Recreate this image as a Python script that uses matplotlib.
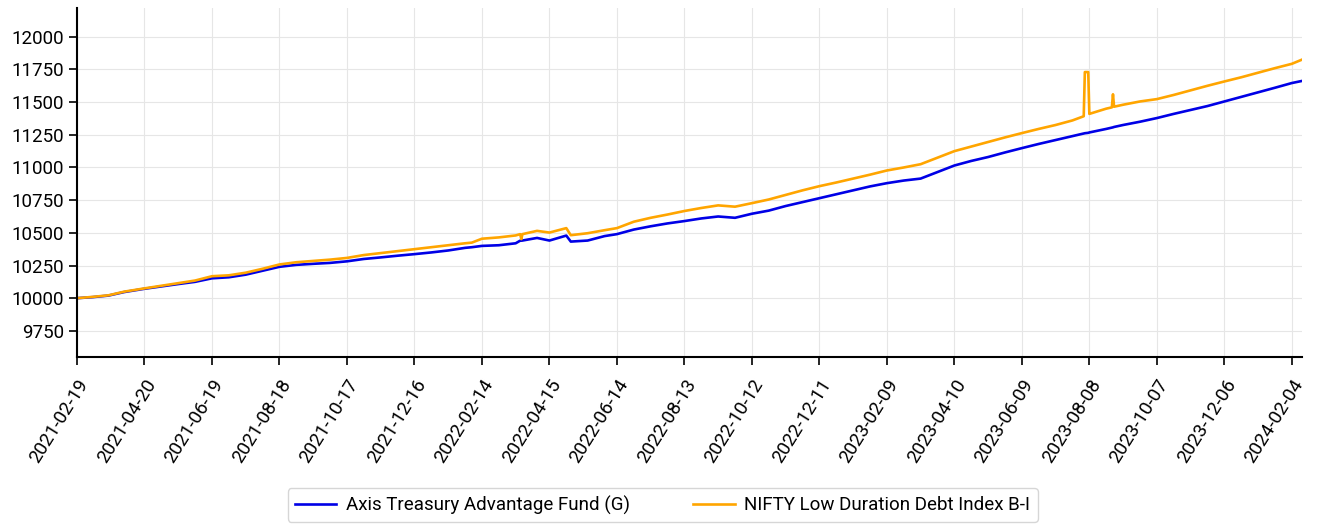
import matplotlib
matplotlib.use("Agg")
import matplotlib.pyplot as plt
import matplotlib.dates as mdates
import pandas as pd

plt.rcParams["font.family"] = ["Roboto", "DejaVu Sans"]

dates = [
    "2021-02-19", "2021-03-05", "2021-03-19", "2021-04-02", "2021-04-20",
    "2021-05-05", "2021-05-20", "2021-06-04", "2021-06-19", "2021-07-04",
    "2021-07-19", "2021-08-03", "2021-08-18", "2021-09-02", "2021-09-17",
    "2021-10-02", "2021-10-17", "2021-11-01", "2021-11-16", "2021-12-01",
    "2021-12-16", "2021-12-31", "2022-01-15", "2022-01-30", "2022-02-05",
    "2022-02-14", "2022-03-01", "2022-03-16", "2022-03-20", "2022-03-21",
    "2022-03-22", "2022-04-04", "2022-04-15", "2022-04-30", "2022-05-04",
    "2022-05-19", "2022-06-03", "2022-06-14", "2022-06-29", "2022-07-14",
    "2022-07-29", "2022-08-13", "2022-08-28", "2022-09-12", "2022-09-27",
    "2022-10-12", "2022-10-27", "2022-11-11", "2022-11-26", "2022-12-11",
    "2022-12-26", "2023-01-10", "2023-01-25", "2023-02-09", "2023-02-24",
    "2023-03-11", "2023-03-26", "2023-04-10", "2023-04-25", "2023-05-10",
    "2023-05-25", "2023-06-09", "2023-06-24", "2023-07-09", "2023-07-24",
    "2023-08-03", "2023-08-04", "2023-08-07", "2023-08-08", "2023-08-23",
    "2023-08-28", "2023-08-29", "2023-08-30", "2023-09-07", "2023-09-22",
    "2023-10-07", "2023-10-22", "2023-11-06", "2023-11-21", "2023-12-06",
    "2023-12-21", "2024-01-05", "2024-01-20", "2024-02-04", "2024-02-13",
]

fund = [
    10000, 10008, 10020, 10047, 10072,
    10090, 10108, 10125, 10152, 10160,
    10180, 10210, 10240, 10255, 10263,
    10270, 10282, 10300, 10312, 10325,
    10337, 10350, 10365, 10385, 10390,
    10400, 10405, 10420, 10440, 10440,
    10441, 10461, 10441, 10479, 10433,
    10441, 10475, 10490, 10525, 10550,
    10572, 10590, 10610, 10625, 10615,
    10646, 10670, 10705, 10735, 10765,
    10795, 10825, 10855, 10880, 10900,
    10915, 10965, 11015, 11050, 11080,
    11115, 11148, 11180, 11210, 11240,
    11260, 11262, 11265, 11268, 11295,
    11305, 11307, 11310, 11325, 11350,
    11378, 11410, 11440, 11470, 11505,
    11540, 11575, 11610, 11646, 11662,
]

index = [
    10000, 10010, 10022, 10050, 10075,
    10095, 10115, 10135, 10168, 10175,
    10195, 10225, 10258, 10275, 10285,
    10295, 10308, 10330, 10345, 10360,
    10375, 10390, 10405, 10420, 10425,
    10455, 10465, 10480, 10490, 10452,
    10490, 10515, 10502, 10536, 10482,
    10497, 10520, 10536, 10585, 10615,
    10640, 10667, 10690, 10710, 10700,
    10727, 10755, 10790, 10825, 10857,
    10885, 10915, 10945, 10977, 11000,
    11025, 11075, 11125, 11160, 11195,
    11230, 11263, 11295, 11325, 11360,
    11392, 11730, 11730, 11410, 11450,
    11460, 11560, 11465, 11480, 11505,
    11523, 11555, 11590, 11625, 11658,
    11690, 11725, 11760, 11793, 11825,
]

yticks = [9750, 10000, 10250, 10500, 10750, 11000, 11250, 11500, 11750, 12000]

x = pd.to_datetime(dates)

fig = plt.figure(figsize=(13.25, 5.24), dpi=100)
ax = fig.add_axes([0.0581, 0.3187, 0.9245, 0.666])

ax.plot(x, fund, color="#0000e6", linewidth=1.9, label="Axis Treasury Advantage Fund (G)")
ax.plot(x, index, color="#ffa500", linewidth=1.9, label="NIFTY Low Duration Debt Index B-I")

ax.set_xlim(x[0], x[-1])
ax.set_ylim(9550, 12220)
ax.set_yticks(yticks)

tick_dates = pd.date_range(x[0], x[-1], freq="60D")
ax.set_xticks(tick_dates)
ax.xaxis.set_major_formatter(mdates.DateFormatter("%Y-%m-%d"))
plt.setp(ax.get_xticklabels(), rotation=58, ha="right", rotation_mode="anchor")

ax.tick_params(labelsize=13.5, length=6, width=1.2, color="black")
ax.tick_params(axis="x", pad=8)
ax.grid(True, color="#e6e6e6", linewidth=0.8)
ax.set_axisbelow(True)
for side in ["top", "right"]:
    ax.spines[side].set_visible(False)
for side in ["left", "bottom"]:
    ax.spines[side].set_linewidth(1.5)

fig.legend(loc="upper center", bbox_to_anchor=(0.5, 0.069), ncol=2,
           fontsize=13.5, frameon=True, edgecolor="#cccccc", fancybox=True,
           handlelength=2.2, handletextpad=0.5, columnspacing=3.4,
           borderaxespad=0)

fig.savefig("out.png", dpi=100)
